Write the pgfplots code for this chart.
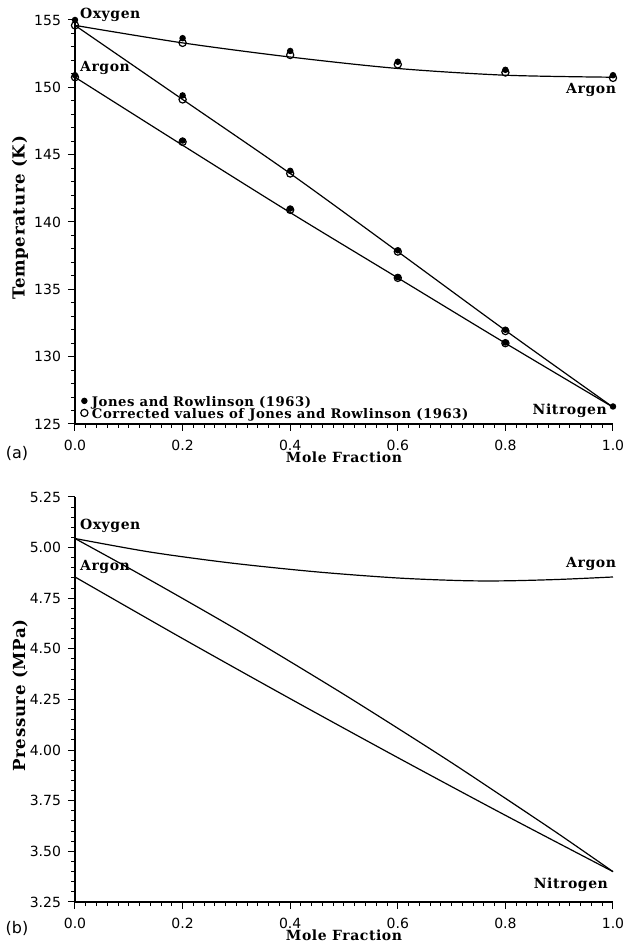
\documentclass[border=0pt]{standalone}
\usepackage{pgfplots}
\pgfplotsset{compat=1.18}
\usepackage{fontspec}
\setmainfont{DejaVu Sans}
\newfontfamily\labfont[LetterSpace=4]{DejaVu Serif}
\newcommand{\lab}{\labfont\bfseries\fontsize{7}{8}\selectfont}
\newcommand{\ylab}{\labfont\bfseries\fontsize{8.3}{9}\selectfont}
\newcommand{\leg}{\labfont\bfseries\fontsize{6.6}{7.5}\selectfont}
\begin{document}
\begin{tikzpicture}
\pgfplotsset{
  panel/.style={
    scale only axis, width=269pt,
    axis lines*=left, xmin=0, xmax=1,
    xtick={0,0.2,0.4,0.6,0.8,1.0}, minor x tick num=9, minor y tick num=4,
    tick align=outside, major tick length=3.5pt, minor tick length=2pt,
    tick style={black, line width=0.5pt},
    axis line style={line width=0.6pt},
    ticklabel style={font=\fontsize{7}{8}\selectfont},
    /pgf/number format/assume math mode=true,
    xticklabel style={yshift=-1pt, /pgf/number format/.cd, fixed, fixed zerofill, precision=1},
    xlabel={\lab Mole Fraction},
    xlabel style={at={(axis description cs:0.5,-0.082)}, anchor=center},
    ylabel style={at={(axis description cs:-0.102,0.51)}, anchor=center},
    every axis plot/.append style={line width=0.6pt, black},
    clip=false,
  },
}
\path[use as bounding box] (0,0) rectangle (314.5pt,472pt);

% (a) temperature
\begin{axis}[panel, at={(37.5pt,260pt)}, anchor=south west, height=202pt,
  ymin=125, ymax=155, ytick={125,130,135,140,145,150,155},
  ylabel={\ylab Temperature (K)},
  legend style={draw=none, fill=none, at={(axis cs:0.01,124.85)}, anchor=south west,
    font=\leg, row sep=-4.5pt, inner sep=0pt, cells={anchor=west}},
  legend image code/.code={\draw[#1, only marks] plot coordinates {(0.08cm,1.1pt)};},
]
% fitted curves
\addplot[smooth, forget plot] coordinates {(0,154.6) (0.2,153.3) (0.4,152.25) (0.6,151.4) (0.8,150.9) (1.0,150.75)};
\addplot[smooth, forget plot] coordinates {(0,154.6) (0.2,149.1) (0.4,143.6) (0.6,137.8) (0.8,131.95) (1.0,126.25)};
\addplot[smooth, forget plot] coordinates {(0,150.75) (0.2,145.7) (0.4,140.7) (0.6,135.85) (0.8,131.0) (1.0,126.25)};
% Jones and Rowlinson (1963)
\addplot[only marks, mark=*, mark size=1.3pt] coordinates {
  (0,155.0) (0.2,153.65) (0.4,152.7) (0.6,151.9) (0.8,151.3) (1.0,150.9)
  (0.2,149.4) (0.4,143.8) (0.6,137.9) (0.8,132.0)
  (0,150.9) (0.2,146.05) (0.4,141.0) (0.6,135.9) (0.8,131.05) (1.0,126.3)};
\addlegendentry{Jones and Rowlinson (1963)}
% corrected values
\addplot[only marks, mark=o, mark size=1.8pt, mark options={fill=white}] coordinates {
  (0,154.6) (0.2,153.3) (0.4,152.4) (0.6,151.7) (0.8,151.1) (1.0,150.7)
  (0.2,149.1) (0.4,143.6) (0.6,137.8) (0.8,131.9)
  (0,150.75) (0.2,145.95) (0.4,140.9) (0.6,135.85) (0.8,131.0)};
\addlegendentry{Corrected values of Jones and Rowlinson (1963)}
\node[anchor=south west, font=\lab, inner sep=1pt] at (axis cs:0.005,154.7) {Oxygen};
\node[anchor=south west, font=\lab, inner sep=1pt] at (axis cs:0.005,150.8) {Argon};
\node[anchor=north east, font=\lab, inner sep=1pt] at (axis cs:1.01,150.45) {Argon};
\node[anchor=east, font=\lab, inner sep=1pt] at (axis cs:0.993,126.0) {Nitrogen};
\end{axis}
\node[font=\fontsize{8}{9}\selectfont] at (8.5pt,245.5pt) {(a)};

% (b) pressure
\begin{axis}[panel, at={(37.5pt,21pt)}, anchor=south west, height=202.5pt,
  ymin=3.25, ymax=5.25, ytick={3.25,3.5,3.75,4.0,4.25,4.5,4.75,5.0,5.25},
  yticklabel style={/pgf/number format/.cd, fixed, fixed zerofill, precision=2},
  ylabel={\ylab Pressure (MPa)},
]
\addplot[smooth] coordinates {(0,5.045) (0.14,4.978) (0.29,4.924) (0.45,4.88) (0.6,4.85) (0.72,4.837) (0.8,4.836) (0.9,4.843) (1.0,4.855)};
\addplot[smooth] coordinates {(0,5.045) (0.1,4.899) (0.2,4.749) (0.3,4.596) (0.4,4.437) (0.5,4.275) (0.6,4.108) (0.7,3.938) (0.8,3.762) (0.9,3.584) (1.0,3.40)};
\addplot[smooth] coordinates {(0,4.855) (0.2,4.551) (0.4,4.254) (0.6,3.963) (0.8,3.678) (1.0,3.40)};
\node[anchor=south west, font=\lab, inner sep=1pt] at (axis cs:0.005,5.06) {Oxygen};
\node[anchor=south west, font=\lab, inner sep=1pt] at (axis cs:0.005,4.86) {Argon};
\node[anchor=south east, font=\lab, inner sep=1pt] at (axis cs:1.01,4.875) {Argon};
\node[anchor=north east, font=\lab, inner sep=1pt] at (axis cs:0.995,3.38) {Nitrogen};
\end{axis}
\node[font=\fontsize{8}{9}\selectfont] at (8.5pt,8pt) {(b)};
\end{tikzpicture}
\end{document}
